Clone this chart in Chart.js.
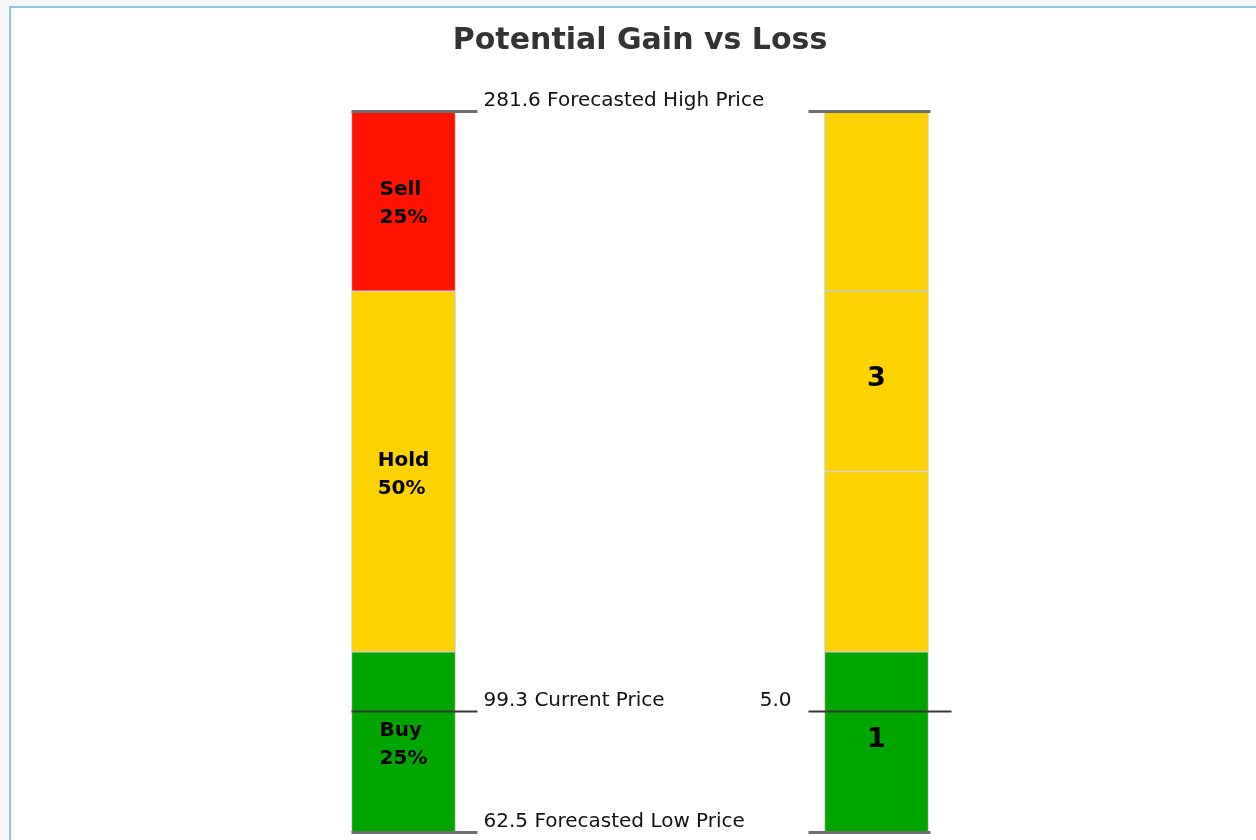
<!DOCTYPE html>
<html>
<head>
<meta charset="utf-8">
<title>Potential Gain vs Loss</title>
<script src="https://cdn.jsdelivr.net/npm/chart.js@4/dist/chart.umd.min.js"></script>
<style>
  html, body { margin: 0; padding: 0; background: #f7f7f7; }
  #frame {
    position: absolute; left: 9px; top: 6px; right: -4px; bottom: -4px;
    background: #ffffff;
    border-left: 2px solid #8fc7e0;
    border-top: 2px solid #8fc7e0;
  }
  #wrap { position: absolute; left: 0; top: 0; width: 1256px; height: 840px; }
</style>
</head>
<body>
<div id="frame"></div>
<div id="wrap"><canvas id="chart" width="1256" height="840"></canvas></div>
<script>
// Two stacked columns: the recommendation split and the score bands
const columns = ['Recommendation', 'Score'];

const ratingNames = ['Buy', 'Hold', 'Sell'];
const ratingShares = [25, 50, 25];

const scoreBands = [25, 25, 25, 25];
const scoreBandLabels = ['1', '', '3', ''];

// Prices marked against the columns
const priceLow = 62.5;
const priceHigh = 281.6;
const priceCurrent = 99.3;
const priceLabels = ['Forecasted Low Price', 'Current Price', 'Forecasted High Price'];
const scoreAtCurrent = '5.0';

// Colours
const RED = '#ff1200';
const YELLOW = '#fcd300';
const GREEN = '#00a500';
const ratingColors = [GREEN, YELLOW, RED];
const scoreColors = [GREEN, YELLOW, YELLOW, YELLOW];

const FONT = '"DejaVu Sans", "Lucida Grande", sans-serif';

// one dataset per stacked segment; left value from ratings, right from score bands
const segCount = Math.max(ratingShares.length, scoreBands.length);
const datasets = [];
for (let i = 0; i < segCount; i++) {
  datasets.push({
    label: ratingNames[i] || ('Band ' + (i + 1)),
    data: [i < ratingShares.length ? ratingShares[i] : null,
           i < scoreBands.length ? scoreBands[i] : null],
    backgroundColor: [ratingColors[i] || 'transparent', scoreColors[i] || 'transparent'],
    borderColor: '#cccccc',
    borderWidth: 1,
    borderSkipped: false,
    barThickness: 104,
    stack: 's',
    yAxisID: 'pct'
  });
}

const overlay = {
  id: 'overlay',
  afterDatasetsDraw(chart) {
    const ctx = chart.ctx;
    const price = chart.scales.price;

    // text inside the recommendation segments
    ctx.save();
    ctx.fillStyle = '#000';
    ctx.font = 'bold 20px ' + FONT;
    ctx.textBaseline = 'middle';
    ratingNames.forEach((name, i) => {
      const bar = chart.getDatasetMeta(i).data[0];
      const cy = (bar.y + bar.base) / 2 + 3;
      const lines = [name, ratingShares[i] + '%'];
      const w = Math.max(...lines.map(t => ctx.measureText(t).width));
      const x0 = bar.x - w / 2;
      ctx.textAlign = 'left';
      ctx.fillText(lines[0], x0, cy - 14);
      ctx.fillText(lines[1], x0, cy + 14);
    });

    // numbers in the score bands
    ctx.font = 'bold 27px ' + FONT;
    ctx.textAlign = 'center';
    scoreBandLabels.forEach((lab, i) => {
      if (!lab) return;
      const bar = chart.getDatasetMeta(i).data[1];
      ctx.fillText(lab, bar.x, (bar.y + bar.base) / 2 - 2);
    });

    // price lines
    const left = chart.getDatasetMeta(0).data[0];
    const right = chart.getDatasetMeta(0).data[1];
    const lL = left.x - left.width / 2, lR = left.x + left.width / 2;
    const rL = right.x - right.width / 2, rR = right.x + right.width / 2;
    const values = [priceLow, priceCurrent, priceHigh];

    values.forEach((v, i) => {
      const y = Math.round(price.getPixelForValue(v)) + 0.5;
      const isCurrent = v === priceCurrent;
      ctx.strokeStyle = isCurrent ? '#383838' : '#6f6f6f';
      ctx.lineWidth = isCurrent ? 2 : 3;
      ctx.beginPath();
      ctx.moveTo(lL, y); ctx.lineTo(lR + 22, y);
      ctx.moveTo(rL - 16, y); ctx.lineTo(rR + (isCurrent ? 23 : 2), y);
      ctx.stroke();

      ctx.fillStyle = '#111';
      ctx.font = '20px ' + FONT;
      ctx.textAlign = 'left';
      ctx.textBaseline = 'middle';
      ctx.fillText(v.toFixed(1) + ' ' + priceLabels[i], lR + 28, y - 11);
      if (isCurrent) {
        ctx.textAlign = 'right';
        ctx.fillText(scoreAtCurrent, rL - 33, y - 11);
      }
    });
    ctx.restore();
  }
};

new Chart(document.getElementById('chart'), {
  type: 'bar',
  data: { labels: columns, datasets },
  options: {
    responsive: false,
    animation: false,
    layout: { padding: { left: 167, right: 143, top: 0, bottom: 8 } },
    plugins: {
      legend: { display: false },
      tooltip: { enabled: false },
      title: {
        display: true,
        text: 'Potential Gain vs Loss',
        color: '#333',
        font: { family: FONT, size: 30, weight: 'bold', lineHeight: 1.2 },
        padding: { top: 23, bottom: 52 }
      }
    },
    scales: {
      x: { display: false, stacked: true, offset: true },
      pct: { axis: 'y', position: 'left', display: false, stacked: true, min: 0, max: 100 },
      price: { axis: 'y', position: 'right', display: false, min: priceLow, max: priceHigh }
    }
  },
  plugins: [overlay]
});
</script>
</body>
</html>
